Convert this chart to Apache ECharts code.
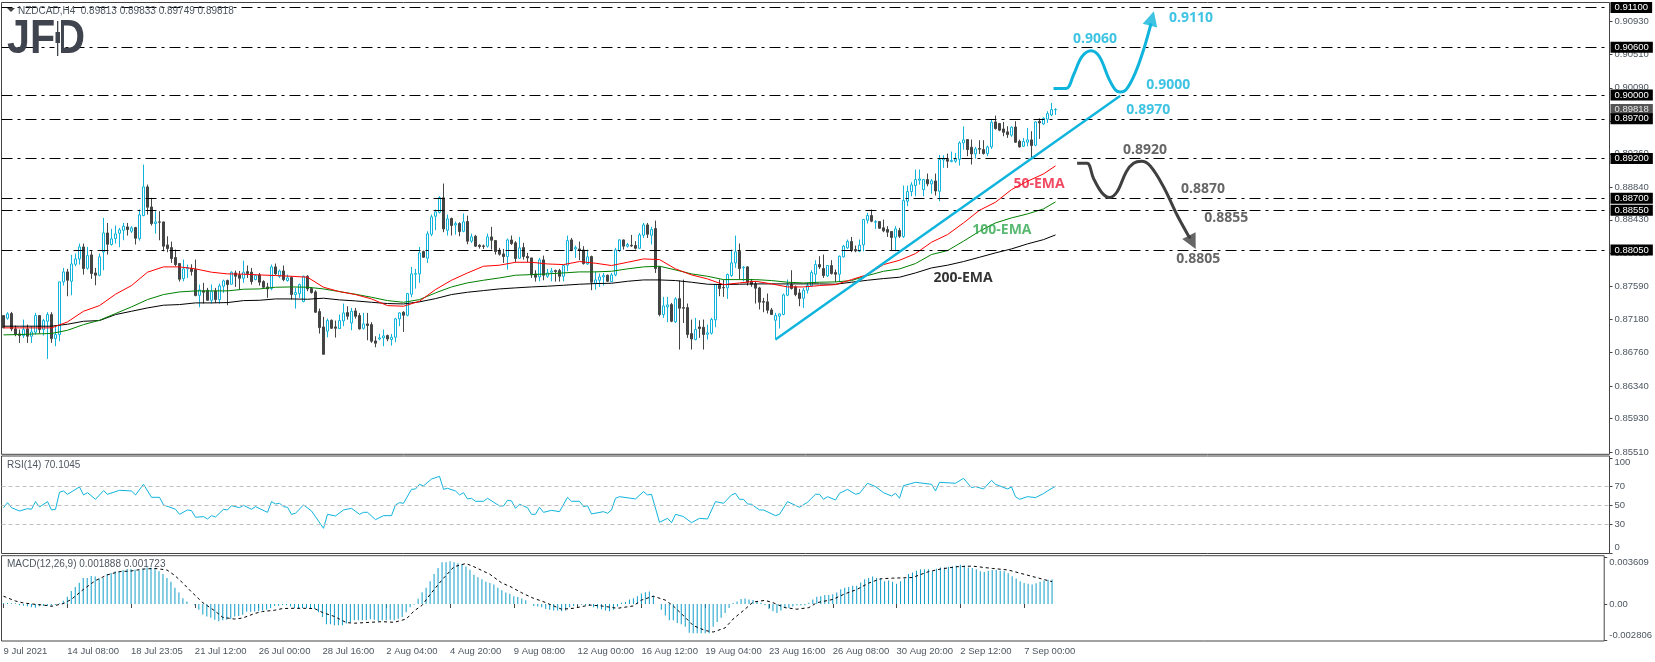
<!DOCTYPE html>
<html>
<head>
<meta charset="UTF-8">
<title>NZDCAD H4</title>
<style>
	html, body { margin: 0; padding: 0; background: #fff; }
	#main { width: 1655px; height: 662px; }
</style>
</head>
<body>
<div id="main"></div>
<script src="https://cdn.jsdelivr.net/npm/echarts@6/dist/echarts.min.js"></script>
<script>
// prices and macd are in points (1e-5)
// one row per H4 bar: open, close, low, high
var candles = [
[87226,87071,87071,87226],[87192,87247,87175,87268],[87251,87058,87029,87272],[87058,86987,86966,87100],[86995,86974,86882,87050],[86974,87050,86945,87175],
[87058,86966,86882,87112],[86966,87020,86882,87092],[87016,87226,86987,87259],[87226,87050,87000,87226],[87050,87163,86974,87184],[87154,87238,86681,87268],
[87238,86936,86882,87268],[86936,86987,86840,87092],[86987,87649,86903,87649],[87649,87775,87603,87825],[87775,87670,87469,87813],[87657,87875,87481,87989],
[87871,87938,87846,88005],[87938,88089,87867,88131],[88089,87817,87741,88131],[87821,87980,87804,88089],[87989,87754,87687,88035],[87762,87733,87607,87825],
[87733,87964,87720,88005],[88026,88265,87796,88454],[88265,88123,87993,88391],[88119,88190,88106,88316],[88194,88253,88131,88358],[88261,88303,88085,88328],
[88299,88349,88173,88391],[88341,88307,88232,88391],[88286,88328,88265,88349],[88333,88198,88119,88341],[88194,88492,88169,88559],[88483,88844,88475,89125],
[88844,88588,88496,88873],[88592,88383,88358,88706],[88383,88404,88257,88538],[88404,88400,88173,88538],[88404,88098,88035,88404],[88114,88068,88022,88223],
[88081,87943,87888,88156],[87955,87867,87846,88056],[87880,87683,87653,87888],[87691,87813,87657,87930],[87813,87829,87699,87867],[87821,87779,87729,87871],
[87804,87477,87469,87930],[87481,87548,87330,87616],[87536,87519,87377,87637],[87544,87418,87414,87574],[87418,87527,87377,87616],[87536,87427,87385,87574],
[87427,87599,87377,87628],[87595,87662,87511,87678],[87666,87616,87356,87678],[87620,87771,87616,87783],[87762,87720,87586,87792],[87737,87695,87553,87787],
[87695,87771,87637,87917],[87779,87754,87699,87855],[87771,87653,87616,87825],[87678,87729,87670,87741],[87737,87645,87603,87762],[87653,87582,87569,87670],
[87586,87561,87448,87637],[87565,87838,87544,87867],[87838,87750,87733,87880],[87720,87787,87699,87804],[87787,87678,87657,87855],[87666,87699,87653,87741],
[87704,87490,87427,87720],[87490,87515,87314,87574],[87502,87616,87448,87628],[87402,87720,87393,87729],[87720,87561,87532,87733],[87565,87515,87502,87582],
[87523,87268,87259,87544],[87276,87075,86999,87314],[87083,86739,86735,87209],[87029,87163,86953,87188],[87167,87066,87058,87175],[87083,87066,86949,87163],
[87062,87163,87058,87238],[87159,87259,87092,87377],[87263,87217,87175,87343],[87133,87280,87041,87322],[87284,87217,87188,87322],[87226,87058,87050,87259],
[87066,87121,87050,87259],[87121,87100,86915,87259],[87112,86903,86882,87142],[86907,86878,86827,86966],[86932,86945,86915,86995],[86945,86970,86840,87050],
[86974,86932,86903,86987],[86924,86953,86848,86995],[86953,87184,86890,87196],[87184,87259,87092,87268],[87268,87230,87020,87280],[87230,87502,87217,87511],
[87494,87750,87456,87838],[87746,87754,87565,87813],[87750,88014,87637,88089],[88031,87959,87951,88043],[87947,88253,87888,88286],[88248,88467,88223,88496],
[88475,88530,88299,88559],[88525,88710,88509,88727],[88706,88316,88274,88886],[88299,88441,88232,88496],[88446,88358,88232,88458],[88366,88383,88244,88408],
[88383,88282,88223,88400],[88286,88404,88274,88509],[88408,88161,88123,88483],[88161,88215,88140,88257],[88223,88098,88089,88240],[88110,88094,88068,88123],
[88102,88094,88064,88119],[88098,88215,88081,88257],[88215,88173,88056,88341],[88169,88031,87993,88169],[88047,87997,87980,88077],[88001,87968,87888,88064],
[87968,88177,87804,88194],[88177,88131,88114,88232],[88140,87943,87896,88161],[87947,88077,87938,88215],[88081,87968,87930,88140],[87968,87951,87896,88014],
[87951,87737,87699,87951],[87750,87708,87653,87796],[87712,87926,87657,87951],[87926,87733,87670,87980],[87720,87762,87699,87813],[87771,87787,87657,87825],
[87792,87779,87653,87804],[87792,87720,87653,87813],[87720,87855,87657,87867],[87859,88169,87783,88232],[88177,88047,88035,88202],[88064,88081,87951,88106],
[88064,88047,87922,88156],[88051,87880,87867,88098],[87875,87964,87863,88056],[87968,87645,87544,87980],[87632,87674,87553,87783],[87670,87712,87586,87754],
[87712,87729,87603,87762],[87733,87657,87649,87741],[87653,87737,87645,87762],[87737,88051,87720,88077],[88043,88177,88026,88186],[88177,88098,88056,88182],
[88098,88119,88081,88140],[88110,88102,88089,88240],[88106,88072,88056,88161],[88072,88240,88064,88265],[88236,88366,88202,88391],[88366,88248,88202,88391],
[88236,88307,88119,88341],[88320,87817,87762,88420],[87838,87238,87217,87846],[87238,87347,87196,87460],[87335,87360,87142,87460],[87364,87154,87142,87385],
[87146,87435,87133,87456],[87439,87318,86798,87666],[87326,87318,87133,87678],[87326,86987,86945,87377],[86999,86932,86798,87175],[86924,87050,86915,87196],
[87083,87062,86945,87167],[87079,86987,86798,87176],[86991,87008,86924,87113],[87004,87176,86987,87197],[87172,87616,87079,87624],[87608,87566,87469,87679],
[87578,87574,87461,87679],[87574,87742,87436,87754],[87729,87888,87712,88056],[87888,88027,87826,88232],[88035,87817,87679,88132],[87826,87834,87658,87847],
[87838,87645,87603,87847],[87658,87620,87587,87687],[87624,87570,87377,87658],[87574,87394,87302,87587],[87402,87394,87268,87448],[87398,87293,87251,87503],
[87297,87239,87239,87322],[87167,87226,86924,87260],[87218,87247,87063,87251],[87239,87486,87230,87503],[87482,87608,87469,87679],[87616,87566,87553,87796],
[87587,87490,87469,87603],[87511,87440,87343,87561],[87444,87545,87322,87574],[87545,87603,87503,87637],[87599,87767,87587,87796],[87746,87867,87629,87922],
[87867,87838,87813,87972],[87817,87729,87700,87993],[87725,87855,87712,87859],[87855,87754,87742,87922],[87767,87746,87645,87805],[87746,87972,87645,87981],
[87964,88098,87956,88115],[88077,88157,88065,88182],[88157,88048,88023,88215],[88056,88039,88023,88106],[88035,88111,88023,88182],[88115,88433,88035,88442],
[88425,88484,88383,88517],[88484,88412,88400,88559],[88400,88408,88316,88425],[88408,88324,88316,88408],[88329,88291,88274,88433],[88308,88274,88215,88350],
[88283,88207,88048,88283],[88211,88316,88035,88350],[88295,88223,88202,88328],[88219,88672,88202,88861],[88664,88785,88601,88861],[88785,88869,88726,88903],
[88861,88936,88726,89062],[88928,88944,88873,89062],[88810,88936,88726,88944],[88936,88882,88852,89012],[88882,88919,88760,88944],[88919,88793,88735,89012],
[88789,89188,88664,89246],[89183,89200,89083,89242],[89192,89167,89083,89263],[89162,89175,89154,89288],[89167,89196,89146,89271],[89192,89397,89112,89418],
[89397,89435,89313,89603],[89439,89313,89230,89439],[89343,89259,89125,89439],[89259,89322,89200,89347],[89326,89318,89259,89431],[89313,89263,89250,89431],
[89263,89347,89230,89364],[89347,89657,89322,89699],[89661,89577,89565,89741],[89640,89557,89544,89649],[89573,89531,89481,89661],[89536,89502,89460,89607],
[89494,89594,89473,89607],[89598,89406,89397,89670],[89418,89347,89339,89439],[89355,89414,89347,89460],[89406,89435,89355,89586],[89435,89364,89209,89544],
[89368,89661,89355,89670],[89666,89649,89448,89707],[89636,89707,89624,89720],[89695,89766,89649,89796],[89749,89816,89733,89900],[89813,89818,89749,89833]
];

// EMAs, read every 4th bar and at the last bar
var emaBars = [];
for (var b = 0; b <= 260; b += 4) { emaBars.push(b); }
emaBars.push(263);
var ema50 = [87071,87071,87071,87071,87146,87280,87351,87494,87603,87771,87838,87838,87813,87771,87750,87746,87737,87729,87720,87708,87582,87527,
	87490,87435,87351,87343,87406,87553,87670,87762,87846,87859,87896,87896,87875,87867,87905,87884,87855,87896,87938,87930,87813,87737,
	87687,87615,87636,87657,87624,87586,87586,87603,87615,87678,87741,87867,87921,88005,88148,88244,88391,88550,88651,88810,88915,89007,89108];
var ema100 = [86983,86987,86995,87000,87041,87112,87167,87251,87335,87427,87490,87523,87536,87536,87536,87557,87561,87582,87586,87582,87561,87527,
	87494,87456,87414,87393,87427,87511,87586,87637,87670,87699,87733,87741,87750,87762,87775,87775,87783,87813,87838,87846,87800,87750,
	87720,87678,87678,87678,87666,87645,87636,87645,87649,87666,87729,87783,87812,87880,87993,88043,88161,88286,88391,88454,88504,88567,88655];
var ema200 = [87092,87092,87092,87092,87117,87154,87163,87238,87280,87322,87356,87364,87385,87385,87389,87414,87418,87435,87435,87431,87444,87423,
	87410,87393,87377,87372,87398,87439,87490,87519,87540,87561,87574,87586,87595,87607,87620,87628,87632,87657,87674,87674,87666,87645,
	87620,87615,87620,87624,87624,87624,87624,87624,87620,87645,87670,87691,87708,87762,87825,87859,87905,87959,88014,88064,88127,88181,88240];

// RSI turning points
var rsiBars = [0,1,2,4,6,7,8,9,11,12,13,14,15,16,19,20,21,23,25,26,29,32,33,35,37,39,40,43,44,46,47,48,50,51,52,53,55,56,57,59,60,62,63,66,67,68,69,70,71,72,73,75,77,80,81,83,85,87,89,90,91,93,95,97,98,99,100,102,103,104,105,107,109,110,111,113,114,115,116,117,118,120,121,124,125,126,127,128,129,
	131,132,133,134,135,137,139,141,142,144,145,146,147,150,151,152,153,154,158,160,161,162,164,166,167,168,170,172,174,176,178,180,182,183,184,185,186,187,189,190,193,194,196,199,201,203,204,205,206,208,209,211,213,214,216,218,220,222,223,224,225,228,232,233,234,238,240,242,243,245,247,248,251,252,253,254,256,258,260,261,263];
var rsiValues = [47.5,52.8,47.5,44,46.5,45.8,53.9,48.2,53.9,45.1,45.8,63.7,65.1,61.6,69.3,60.9,63.3,56.3,65.4,61.6,65.8,65.1,60.9,72.1,58.4,58.4,50.4,45.8,40.5,45.1,44.4,37.4,38.1,35.6,39.1,37.7,45.8,45.1,49.6,47.5,50,45.8,48.6,42.6,53.9,51.4,52.1,48.6,47.9,40.5,41.6,50.4,44,25.8,40.5,38.8,45.1,46.8,40.5,42.6,42.6,34.9,39.1,39.1,50.4,52.8,52.1,66.8,67.2,72.1,70.4,77.7,80.5,66.8,67.9,65.1,60.9,63.3,56.7,57.4,54.2,54.2,57.4,49.3,49.3,55.3,54.6,46.8,51.1,
	47.5,40.5,40.5,47.9,42.6,44.7,43.3,58.4,54.2,54.2,48.6,49.6,40.9,43.3,41.6,45.1,57.4,59.1,56.7,64.4,60.9,61.6,32.1,36.3,31.7,40.5,38.1,31.7,36.3,35.6,53.9,52.1,60.9,62.6,56.3,56.3,51.4,51.1,45.1,45.1,39.1,40.5,53.9,47.9,53.2,61.6,61.6,56.3,59.1,55.6,62.6,66.8,61.6,62.6,73.2,69.7,63.3,59.8,62.6,57.4,70.7,74.2,72.1,65.1,74.2,73.2,78.4,68.6,69.7,67.2,76.3,72.1,67.2,69.3,59.1,56.3,59.1,58.1,62.3,65.1,70.1];

// MACD histogram, one value per bar
var macdHist = [5,8,5,5,-10,-13,-18,-25,-28,-18,-15,-13,-13,-8,5,25,55,101,131,164,201,201,216,211,196,201,231,239,252,252,262,269,269,264,259,272,282,279,272,252,231,201,171,126,88,45,20,0,
	-10,-45,-81,-96,-106,-121,-133,-126,-121,-113,-96,-93,-83,-60,-60,-58,-55,-50,-45,-30,-15,-13,-8,-10,-20,-30,-38,-30,-30,-33,-38,-63,-101,-156,-156,-164,-164,-164,-151,-138,-126,-126,-126,-126,-118,-121,-131,-126,-126,-121,-126,-113,-101,-63,-25,-5,
	40,91,126,176,231,277,322,322,330,322,314,309,289,264,226,206,191,171,161,151,126,106,88,78,60,53,43,28,0,-15,-20,-25,-38,-45,-50,-50,-55,-50,-25,-15,-5,-5,-10,-15,-25,-35,-40,-50,-55,-45,-20,
	10,15,35,45,60,81,91,96,63,0,-45,-88,-126,-126,-146,-156,-176,-221,-226,-226,-226,-226,-226,-176,-138,-106,-70,-30,8,20,38,43,35,30,20,10,-10,-38,-55,-70,-50,-30,-30,-20,-10,-10,-10,
	10,35,55,60,70,70,75,88,113,126,131,141,141,166,191,201,211,201,196,176,181,171,156,176,196,231,242,257,267,267,267,252,272,282,282,287,289,294,302,297,282,277,267,252,247,257,262,262,257,252,236,214,196,176,161,156,151,159,171,181,186,189];

// MACD signal line turning points
var signalBars = [0,3,5,8,10,12,15,17,20,23,26,29,32,35,38,41,43,45,47,50,53,55,58,60,63,65,68,70,73,75,78,80,83,86,88,92,95,98,101,103,105,107,110,113,116,118,122,125,
	127,130,133,135,138,140,143,147,150,154,158,160,163,166,168,171,173,176,178,181,183,186,188,191,193,196,199,202,204,208,211,214,217,220,223,228,232,235,239,243,248,252,256,263];
var signalValues = [60,23,8,-3,-8,-18,3,35,111,179,224,249,254,269,274,262,219,161,98,10,-53,-103,-116,-108,-73,-58,-48,-35,-33,-33,-35,-65,-96,-143,-148,-141,-136,-141,-116,-53,-10,73,186,287,312,287,229,161,
	136,86,43,23,-15,-40,-33,-8,-15,-33,-15,30,60,30,-15,-103,-166,-204,-216,-184,-116,-40,15,28,10,-28,-40,-28,10,35,78,111,161,194,199,204,249,269,287,292,274,262,229,172];

var priceTicks = [0.9093,0.9051,0.9009,0.8967,0.8926,0.8884,0.8843,0.8801,0.8759,0.8718,0.8676,0.8634,0.8593,0.8551];
var rsiTicks = [0,30,50,70,100];
var macdTicks = [-0.002806,0,0.003609];
var levels = [0.8805,0.8855,0.8870,0.8920,0.8970,0.9000,0.9060,0.9110];
var lastPrice = 0.89818;
var timeLabels = ['9 Jul 2021','14 Jul 08:00','18 Jul 23:05','21 Jul 12:00','26 Jul 00:00','28 Jul 16:00','2 Aug 04:00','4 Aug 20:00','9 Aug 08:00','12 Aug 00:00','16 Aug 12:00','19 Aug 04:00','23 Aug 16:00','26 Aug 08:00','30 Aug 20:00','2 Sep 12:00','7 Sep 00:00'];

// drawn analysis: bar number and price of each point
var trendBars = [193,279.2];
var trendPrices = [0.86924,0.8999];
var upBars = [262.5,265.7,267.5,269.6,271.9,274,276.3,278,279.2,280.7,282.9,285,286.9];
var upPrices = [0.90083,0.90083,0.90251,0.90481,0.90557,0.90481,0.90209,0.90062,0.90037,0.9007,0.90272,0.90565,0.90901];
var downBars = [268.4,270.9,272.5,274.6,276.5,278.4,280.7,282.5,284.5,286.7,290,293.4,295.9,296.7];
var downPrices = [0.8914,0.8914,0.88951,0.88771,0.88712,0.88783,0.89035,0.8914,0.89165,0.89106,0.88846,0.8849,0.88259,0.88196];
var upNotes = ['0.9110','0.9060','0.9000','0.8970'];
var upNoteBars = [296.9,272.9,291.2,286.2];
var upNotePrices = [0.90972,0.90704,0.90125,0.89811];
var downNotes = ['0.8920','0.8870','0.8855','0.8805'];
var downNoteBars = [285.4,299.9,305.7,298.7];
var downNotePrices = [0.89308,0.88817,0.88453,0.87937];
var emaNames = ['50-EMA','100-EMA','200-EMA'];
var emaNameBars = [258.9,249.6,239.9];
var emaNamePrices = [0.8888,0.88302,0.87698];

var BLUE = '#0fb4dc', DARK = '#444444', TICK = '#4d5660';
var FONT = 'Liberation Sans';
var SLOTS = 402; // bar slots on the time axis, the chart stops at 264

var categories = [];
for (var i = 0; i < SLOTS; i++) {
	categories.push(i % 16 === 0 && timeLabels[i / 16] ? timeLabels[i / 16] : '');
}

function points(arr) {
	return arr.map(function(v) { return v / 100000; });
}
function pairs(xs, ys) {
	return xs.map(function(x, k) { return [x, ys[k]]; });
}
function lineSeries(name, xAxis, yAxis, data, color, width, extra) {
	var s = {
		name: name, type: 'line', xAxisIndex: xAxis, yAxisIndex: yAxis,
		data: data, symbol: 'none', silent: true,
		lineStyle: { color: color, width: width }
	};
	for (var k in extra) { s[k] = extra[k]; }
	return s;
}
function noteSeries(names, xs, ys, color) {
	return {
		type: 'scatter', xAxisIndex: 3, yAxisIndex: 0, symbolSize: 0, silent: true, z: 8,
		data: names.map(function(n, k) {
			return {
				value: [xs[k], ys[k]],
				label: {
					show: true, position: 'inside', formatter: n,
					color: Array.isArray(color) ? color[k] : color,
					fontFamily: 'Open Sans', fontWeight: 'bold', fontSize: 14
				}
			};
		})
	};
}
function hiddenX(gridIndex) {
	return {
		type: 'category', gridIndex: gridIndex, data: categories, boundaryGap: true,
		axisLine: { show: false }, axisTick: { show: false }, axisLabel: { show: false }, splitLine: { show: false }
	};
}
function rightY(gridIndex, min, max, ticks, fmt, extraLabel) {
	var label = { customValues: ticks, formatter: fmt, color: TICK, fontFamily: FONT, fontSize: 9.5, margin: 5 };
	for (var k in extraLabel) { label[k] = extraLabel[k]; }
	return {
		type: 'value', gridIndex: gridIndex, position: 'right', min: min, max: max,
		axisLine: { show: false, onZero: false },
		axisTick: { show: true, customValues: ticks, length: 3, lineStyle: { color: '#444' } },
		axisLabel: label,
		splitLine: { show: false }
	};
}
function paneTitle(text, left, top) {
	return { text: text, left: left, top: top, padding: 0, textStyle: { color: '#4d5660', fontFamily: FONT, fontWeight: 'normal', fontSize: 10 } };
}

var levelLines = [{
	yAxis: lastPrice,
	lineStyle: { color: 'rgba(0,0,0,0)' },
	label: { backgroundColor: '#555555', color: '#e6e6e6', formatter: lastPrice.toFixed(5) }
}].concat(levels.map(function(v) {
	return { yAxis: v };
}));

var option = {
	animation: false,
	backgroundColor: '#ffffff',
	title: [
		paneTitle('NZDCAD,H4  0.89813 0.89833 0.89749 0.89818', 18, 6),
		paneTitle('RSI(14) 70.1045', 7, 460),
		paneTitle('MACD(12,26,9) 0.001888 0.001723', 7, 559)
	],
	grid: [
		{ left: 1.5, width: 1608, top: 2.5, height: 451.8, show: true, borderColor: '#444', borderWidth: 1, backgroundColor: '#fff' },
		{ left: 1.5, width: 1608, top: 456, height: 97.5, show: true, borderColor: '#444', borderWidth: 1, backgroundColor: '#fff' },
		{ left: 1.5, width: 1608, top: 555.7, height: 85.3, show: true, borderColor: '#444', borderWidth: 1, backgroundColor: '#fff' }
	],
	xAxis: [
		hiddenX(0),
		hiddenX(1),
		{
			type: 'category', gridIndex: 2, data: categories, boundaryGap: true,
			axisLine: { show: false },
			axisTick: {
				show: true, alignWithLabel: true, length: 4, lineStyle: { color: '#444' },
				interval: function(index, value) { return value !== ''; }
			},
			axisLabel: {
				show: true, align: 'left', margin: 5, color: TICK, fontFamily: FONT, fontSize: 9.5,
				interval: function(index, value) { return value !== ''; }
			},
			splitLine: { show: false }
		},
		// same bar numbers as the category axes, but allows fractions for the drawn paths
		{ type: 'value', gridIndex: 0, min: -0.5, max: SLOTS - 0.5, show: false, splitLine: { show: false } }
	],
	yAxis: [
		rightY(0, 0.85481, 0.91163, priceTicks, function(v) { return v.toFixed(5); }),
		rightY(1, -0.74, 101.9, rsiTicks, function(v) { return String(v); }, { verticalAlignMinLabel: 'bottom', verticalAlignMaxLabel: 'top' }),
		rightY(2, -0.00285, 0.00372, macdTicks, function(v) { return v === 0 ? '0.00' : v.toFixed(6); }, { verticalAlignMinLabel: 'bottom', verticalAlignMaxLabel: 'top' })
	],
	graphic: [
		{ type: 'polygon', shape: { points: [[7, 8], [15, 8], [11, 12]] }, style: { fill: '#444' } },
		{
			type: 'text', x: 7, y: 16, scaleX: 0.86, z: 20,
			style: { text: 'JFD', fontFamily: FONT, fontWeight: 'bold', fontSize: 48, fill: '#40444e' }
		},
		// candle mark in the logo, in place of the D's stem
		{ type: 'rect', z: 21, shape: { x: 54.5, y: 20, width: 6.5, height: 38 }, style: { fill: '#fff' } },
		{ type: 'rect', z: 22, shape: { x: 57, y: 21, width: 1.3, height: 35 }, style: { fill: '#40444e' } },
		{ type: 'rect', z: 22, shape: { x: 55.5, y: 32, width: 4.5, height: 11 }, style: { fill: '#40444e' } }
	],
	series: [
		{
			name: 'NZDCAD', type: 'candlestick', xAxisIndex: 0, yAxisIndex: 0, barWidth: 3, silent: true, clip: false,
			data: candles.map(points),
			itemStyle: { color: '#ffffff', color0: DARK, borderColor: BLUE, borderColor0: DARK, borderWidth: 1 },
			markLine: {
				silent: true, symbol: 'none', animation: false, z: 6, precision: 5,
				lineStyle: { color: '#000', width: 1, type: [11, 5, 3, 5], opacity: 1 },
				label: {
					show: true, position: 'end', distance: 1, backgroundColor: '#000', color: '#fff',
					fontFamily: FONT, fontSize: 9.5, lineHeight: 11, padding: [0, 4],
					formatter: function(p) { return p.value.toFixed(5); }
				},
				data: levelLines
			}
		},
		lineSeries('EMA 200', 0, 0, pairs(emaBars, points(ema200)), '#000000', 1, { z: 4 }),
		lineSeries('EMA 100', 0, 0, pairs(emaBars, points(ema100)), '#008000', 1, { z: 4 }),
		lineSeries('EMA 50', 0, 0, pairs(emaBars, points(ema50)), '#ff0000', 1, { z: 4 }),
		lineSeries('Trend', 3, 0, pairs(trendBars, trendPrices), BLUE, 2.4, { z: 7 }),
		lineSeries('Up path', 3, 0, pairs(upBars, upPrices), BLUE, 3, { z: 7, smooth: 0.35 }),
		lineSeries('Down path', 3, 0, pairs(downBars, downPrices), '#404040', 3, { z: 7, smooth: 0.35 }),
		{
			type: 'scatter', xAxisIndex: 3, yAxisIndex: 0, symbol: 'triangle', symbolSize: [15, 15], silent: true, z: 7,
			data: [
				{ value: [287.1, 0.90963], symbolRotate: -15, itemStyle: { color: BLUE } },
				{ value: [297.2, 0.88146], symbolRotate: 207, itemStyle: { color: '#404040' } }
			]
		},
		noteSeries(upNotes, upNoteBars, upNotePrices, BLUE),
		noteSeries(downNotes, downNoteBars, downNotePrices, '#404040'),
		noteSeries(emaNames, emaNameBars, emaNamePrices, ['#ee1c3a', '#2fa84f', '#000000']),
		lineSeries('RSI', 1, 1, pairs(rsiBars, rsiValues), BLUE, 1, {
			markLine: {
				silent: true, symbol: 'none', animation: false, label: { show: false },
				lineStyle: { color: '#c0c0c0', width: 1, type: [4, 3] },
				data: [{ yAxis: 70 }, { yAxis: 50 }, { yAxis: 30 }]
			}
		}),
		{
			name: 'MACD', type: 'bar', xAxisIndex: 2, yAxisIndex: 2, barWidth: 1, silent: true,
			data: points(macdHist), itemStyle: { color: '#0f9ec8' }
		},
		lineSeries('Signal', 2, 2, pairs(signalBars, points(signalValues)), '#000000', 1, { z: 4, lineStyle: { color: '#000', width: 1, type: [3, 3] } })
	]
};

var myChart = echarts.init(document.getElementById('main'));
myChart.setOption(option);
</script>
</body>
</html>
